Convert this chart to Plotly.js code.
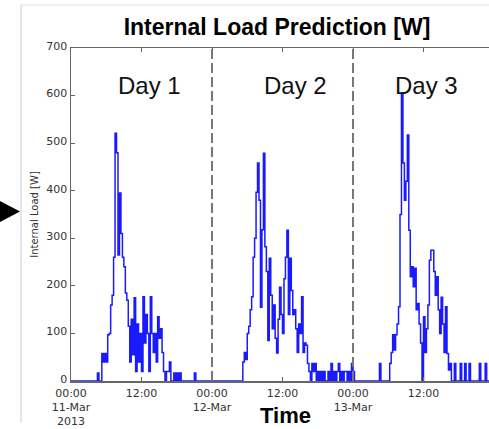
<!DOCTYPE html>
<html>
<head>
<meta charset="utf-8">
<script src="https://cdn.plot.ly/plotly-3.0.1.min.js"></script>
<style>
  html, body { margin: 0; padding: 0; background: #fff; }
  #chart { width: 489px; height: 429px; }
</style>
</head>
<body>
<div id="chart"></div>
<script>
// Internal load [W] at 15-minute steps, one array per day (96 values each)
const day1Load = [
  0,0,0,0,0,0,0,0,0,0,0,0,0,0,0,0,0,0,
  17,0,0,58,40,58,40,97,100,160,180,260,521,480,265,395,310,260,
  240,185,170,115,40,130,55,175,20,120,40,100,20,177,80,140,100,20,
  177,100,60,100,40,135,90,110,60,20,0,20,20,40,0,0,17,0,17,0,17,
  0,0,0,0,0,0,0,0,0,17,0,0,0,0,0,0,0,0,0,0,0
];
const day2Load = [
  0,0,0,0,0,0,0,0,0,0,0,0,0,0,0,0,0,0,0,0,0,
  40,60,45,100,115,150,177,260,300,397,458,380,155,318,479,282,230,85,
  258,180,110,160,90,59,130,197,140,100,215,260,317,140,258,190,140,150,
  110,60,120,100,177,60,80,75,37,20,0,37,20,37,0,20,0,20,0,20,0,0,20,
  0,37,0,20,0,20,37,0,20,0,20,20,0,20,0,37
];
const day3Load = [
  20,0,0,0,0,0,0,0,0,0,0,0,0,0,0,0,0,0,
  37,0,0,0,0,0,0,37,60,97,65,97,120,156,350,605,458,380,420,517,317,
  219,240,198,237,150,163,120,80,0,135,60,110,160,254,275,275,230,180,
  219,150,100,176,120,60,156,58,23,37,0,0,37,0,0,0,37,0,0,37,0,0,37,
  0,0,0,0,0,0,37,0,0,0,37,0,0,0,0,0
];
const dayStarts = ['2013-03-11', '2013-03-12', '2013-03-13'];
const dayLabels = ['Day 1', 'Day 2', 'Day 3'];
const dayLabelTimes = ['2013-03-11 13:24', '2013-03-12 14:10', '2013-03-13 12:30'];
const dayBoundaries = ['2013-03-12 00:00', '2013-03-13 00:00'];
const tickVals = ['2013-03-11 00:00', '2013-03-11 12:00', '2013-03-12 00:00',
                  '2013-03-12 12:00', '2013-03-13 00:00', '2013-03-13 12:00'];
const tickText = ['00:00<br>11-Mar<br>2013', '12:00', '00:00<br>12-Mar',
                  '12:00', '00:00<br>13-Mar', '12:00'];
const yTicks = [0, 100, 200, 300, 400, 500, 600, 700];

function pad(n) { return (n < 10 ? '0' : '') + n; }
function stamp(dayStr, i) {
  const p = dayStr.split('-').map(Number);
  const d = new Date(Date.UTC(p[0], p[1] - 1, p[2], 0, i * 15));
  return d.getUTCFullYear() + '-' + pad(d.getUTCMonth() + 1) + '-' + pad(d.getUTCDate()) +
         ' ' + pad(d.getUTCHours()) + ':' + pad(d.getUTCMinutes());
}

const days = [day1Load, day2Load, day3Load];
const xs = [], ys = [];
days.forEach((arr, d) => {
  arr.forEach((v, i) => { xs.push(stamp(dayStarts[d], i)); ys.push(v); });
});

const trace = {
  x: xs, y: ys, type: 'scatter', mode: 'lines',
  line: { color: '#1a1aff', width: 1.5, shape: 'hv' },
  hoverinfo: 'x+y', showlegend: false
};

// pixel helpers for decoration outside the plot (paper coords)
const L = 71, T = 48, W = 418, H = 333;
function px(x) { return (x - L) / W; }
function py(y) { return (T + H - y) / H; }

const shapes = dayBoundaries.map(b => ({
  type: 'line', xref: 'x', yref: 'y', x0: b, x1: b, y0: 0, y1: 700,
  line: { color: '#777777', width: 2, dash: '10px,4px' }
}));
// slide frame lines and arrow marker
shapes.push({ type: 'line', xref: 'paper', yref: 'paper', x0: px(21), x1: px(21), y0: py(5), y1: py(423),
  line: { color: '#cccccc', width: 1 } });
shapes.push({ type: 'line', xref: 'paper', yref: 'paper', x0: px(21), x1: px(489), y0: py(5), y1: py(5),
  line: { color: '#dddddd', width: 1 } });
shapes.push({ type: 'path', xref: 'paper', yref: 'paper',
  path: 'M ' + px(-2) + ' ' + py(200) + ' L ' + px(20) + ' ' + py(211.5) + ' L ' + px(-2) + ' ' + py(223) + ' Z',
  fillcolor: '#000000', line: { width: 0 } });

const annotations = dayLabels.map((t, i) => ({
  x: dayLabelTimes[i], y: 622, xref: 'x', yref: 'y', text: t, showarrow: false,
  font: { family: 'Liberation Sans, Arial, sans-serif', size: 24, color: '#111111' },
  xanchor: 'center', yanchor: 'middle'
}));
annotations.push({
  x: px(285), y: py(415), xref: 'paper', yref: 'paper', text: '<b>Time</b>', showarrow: false,
  font: { family: 'Liberation Sans, Arial, sans-serif', size: 22, color: '#000000' },
  xanchor: 'center', yanchor: 'middle'
});

const layout = {
  width: 489, height: 429,
  margin: { l: L, r: 0, t: T, b: 48, pad: 0 },
  paper_bgcolor: '#ffffff', plot_bgcolor: '#ffffff',
  title: {
    text: '<b>Internal Load Prediction [W]</b>',
    font: { family: 'Liberation Sans, Arial, sans-serif', size: 23, color: '#000000' },
    x: 277 / 489, xanchor: 'center', xref: 'container',
    y: 1 - 27 / 429, yanchor: 'middle', yref: 'container'
  },
  xaxis: {
    type: 'date',
    range: ['2013-03-11 00:00', '2013-03-13 23:09'],
    tickmode: 'array', tickvals: tickVals, ticktext: tickText,
    ticks: 'inside', ticklen: 4, tickcolor: '#666666', tickwidth: 1,
    showline: true, linecolor: '#666666', linewidth: 1.5, mirror: 'ticks',
    showgrid: false, zeroline: false,
    tickfont: { family: 'DejaVu Sans, sans-serif', size: 11, color: '#333333' },
    ticklabelstandoff: 1,
    automargin: false
  },
  yaxis: {
    range: [0, 700],
    tickmode: 'array', tickvals: yTicks,
    ticks: 'inside', ticklen: 4, tickcolor: '#666666', tickwidth: 1,
    showline: true, linecolor: '#666666', linewidth: 1.5, mirror: false,
    showgrid: false, zeroline: false,
    tickfont: { family: 'DejaVu Sans, sans-serif', size: 11, color: '#333333' },
    ticklabelshift: -2,
    title: { text: 'Internal Load [W]', standoff: 6,
      font: { family: 'DejaVu Sans, sans-serif', size: 10, color: '#333333' } },
    automargin: false
  },
  shapes: shapes,
  annotations: annotations
};

Plotly.newPlot('chart', [trace], layout, { displayModeBar: false, staticPlot: true });
</script>
</body>
</html>
